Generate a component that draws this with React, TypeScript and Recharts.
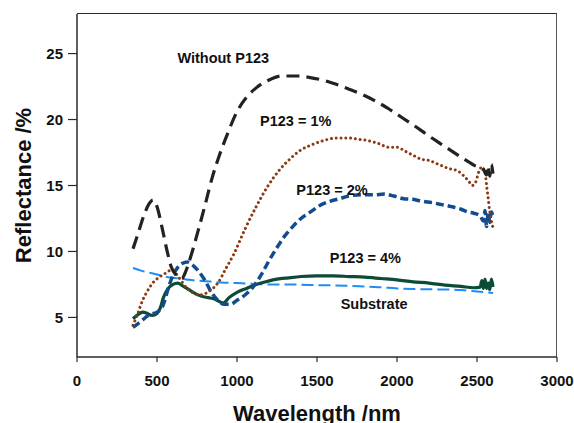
import React from "react";
import { LineChart, Line, XAxis, YAxis, ReferenceDot } from "recharts";

// Wavelength (nm) / reflectance (%) pairs
const withoutP123: [number, number][] = [
  [350, 10.2], [380, 11.3], [420, 12.8], [450, 13.6], [475, 13.9], [500, 13.4],
  [530, 11.9], [560, 10.2], [590, 8.8], [620, 8.2], [655, 7.95], [680, 8.5],
  [700, 9.2], [760, 11.7], [800, 13.5], [845, 15.6], [890, 17.3], [940, 18.9],
  [1000, 20.6], [1060, 21.7], [1120, 22.4], [1200, 23.0], [1280, 23.3], [1380, 23.3],
  [1450, 23.2], [1530, 23.0], [1600, 22.75], [1700, 22.3], [1800, 21.8], [1880, 21.3],
  [1950, 20.8], [2000, 20.4], [2100, 19.6], [2200, 18.75], [2300, 17.95], [2400, 17.15],
  [2480, 16.55], [2540, 16.2], [2560, 15.8], [2570, 16.5], [2580, 15.7], [2590, 16.6],
  [2600, 15.9],
];

const p123OnePct: [number, number][] = [
  [350, 4.4], [380, 5.3], [410, 6.3], [440, 7.0], [480, 7.7], [520, 8.1], [560, 8.4],
  [590, 8.6], [620, 8.3], [650, 7.8], [680, 7.3], [720, 6.9], [760, 6.7], [800, 6.8],
  [840, 7.1], [880, 7.6], [930, 8.7], [980, 9.8], [1050, 11.7], [1120, 13.4],
  [1190, 14.9], [1260, 16.1], [1330, 17.0], [1400, 17.7], [1470, 18.1], [1540, 18.4],
  [1620, 18.6], [1700, 18.6], [1760, 18.5], [1820, 18.4], [1880, 18.2], [1950, 17.9],
  [2000, 17.9], [2050, 17.6], [2100, 17.3], [2150, 17.0], [2200, 16.9], [2260, 16.6],
  [2320, 16.3], [2380, 16.1], [2420, 15.7], [2450, 15.3], [2470, 15.0], [2490, 15.2],
  [2510, 16.0], [2530, 16.4], [2550, 16.0], [2560, 15.0], [2570, 14.0], [2580, 13.0],
  [2590, 12.3], [2600, 11.8],
];

const p123TwoPct: [number, number][] = [
  [350, 4.25], [400, 4.7], [450, 5.2], [500, 5.4], [540, 6.0], [570, 7.2], [600, 8.2],
  [630, 8.8], [660, 9.1], [690, 9.2], [720, 9.0], [760, 8.5], [800, 7.8], [840, 6.9],
  [880, 6.3], [920, 6.0], [960, 6.0], [1000, 6.3], [1050, 6.7], [1100, 7.3],
  [1150, 8.2], [1200, 9.3], [1250, 10.3], [1300, 11.2], [1350, 11.9], [1400, 12.5],
  [1460, 13.0], [1520, 13.5], [1580, 13.8], [1640, 14.0], [1700, 14.2], [1780, 14.3],
  [1860, 14.3], [1920, 14.35], [1980, 14.2], [2040, 14.0], [2100, 13.95], [2160, 13.8],
  [2220, 13.7], [2280, 13.55], [2340, 13.4], [2400, 13.2], [2440, 13.0], [2480, 12.9],
  [2520, 12.7], [2540, 12.3], [2550, 13.1], [2560, 11.9], [2570, 12.9], [2580, 12.2],
  [2590, 13.0], [2600, 12.6],
];

const p123FourPct: [number, number][] = [
  [350, 4.9], [380, 5.2], [410, 5.4], [440, 5.3], [470, 5.15], [500, 5.3], [520, 5.7],
  [540, 6.5], [570, 7.2], [600, 7.5], [630, 7.6], [660, 7.4], [700, 7.1], [740, 6.8],
  [780, 6.6], [820, 6.5], [860, 6.4], [890, 6.2], [915, 6.1], [950, 6.5], [1000, 6.9],
  [1060, 7.2], [1120, 7.5], [1180, 7.7], [1250, 7.9], [1320, 8.0], [1400, 8.1],
  [1500, 8.15], [1600, 8.15], [1700, 8.1], [1800, 8.05], [1900, 7.95], [2000, 7.85],
  [2100, 7.7], [2200, 7.6], [2300, 7.45], [2400, 7.35], [2480, 7.25], [2520, 7.3],
  [2530, 7.8], [2540, 7.2], [2550, 7.9], [2560, 7.2], [2570, 7.6], [2580, 7.1],
  [2590, 7.9], [2600, 7.3],
];

const substrate: [number, number][] = [
  [350, 8.75], [400, 8.55], [450, 8.4], [500, 8.25], [550, 8.1], [600, 8.0], [650, 7.95],
  [700, 7.85], [800, 7.75], [900, 7.65], [1000, 7.6], [1100, 7.55], [1200, 7.5],
  [1300, 7.5], [1400, 7.48], [1500, 7.45], [1600, 7.43], [1700, 7.4], [1800, 7.35],
  [1900, 7.28], [2000, 7.2], [2100, 7.15], [2200, 7.13], [2300, 7.12], [2400, 7.08],
  [2500, 6.97], [2600, 6.85],
];

const wavelengthTicks = [0, 500, 1000, 1500, 2000, 2500, 3000];
const reflectanceTicks = [5, 10, 15, 20, 25];
const X_MIN = 0;
const X_MAX = 3000;
const Y_MIN = 2;
const Y_MAX = 28;

// annotation text and its anchor in data coordinates
const annotations: { text: string; x: number; y: number }[] = [
  { text: "Without P123", x: 914, y: 24.65 },
  { text: "P123 = 1%", x: 1367, y: 19.9 },
  { text: "P123 = 2%", x: 1594, y: 14.7 },
  { text: "P123 = 4%", x: 1802, y: 9.5 },
  { text: "Substrate", x: 1857, y: 6.0 },
];

const toRows = (pairs: [number, number][]) => pairs.map(([x, y]) => ({ x, y }));

const FONT = '"Liberation Sans", Arial, sans-serif';
const AXIS_COLOR = "#2a2a2a";
const tickStyle = { fontSize: 15, fontWeight: 700, fill: "#111", fontFamily: FONT };

// layout of the chart box
const CHART_W = 574;
const CHART_H = 423;
const MARGIN = { top: 14, right: 17, bottom: 0, left: 8 };
const Y_AXIS_W = 69;
const X_AXIS_H = 66;

const YTitle = (props: any) => {
  const vb = props.viewBox || {};
  const cx = (vb.x ?? 0) + 15;
  const cy = (vb.y ?? 0) + (vb.height ?? 0) / 2;
  return (
    <text
      x={cx}
      y={cy}
      transform={`rotate(-90, ${cx}, ${cy})`}
      textAnchor="middle"
      dominantBaseline="central"
      style={{ fontSize: 22, fontWeight: 700, fill: "#111", fontFamily: FONT }}
    >
      Reflectance /%
    </text>
  );
};

const XTitle = (props: any) => {
  const vb = props.viewBox || {};
  const cx = (vb.x ?? 0) + (vb.width ?? 0) / 2;
  const by = (vb.y ?? 0) + 64;
  return (
    <text
      x={cx}
      y={by}
      textAnchor="middle"
      style={{ fontSize: 22, fontWeight: 700, fill: "#111", fontFamily: FONT }}
    >
      Wavelength /nm
    </text>
  );
};

export default function App() {
  const plotLeft = MARGIN.left + Y_AXIS_W;
  const plotTop = MARGIN.top;
  const plotW = CHART_W - MARGIN.left - MARGIN.right - Y_AXIS_W;
  const plotH = CHART_H - MARGIN.top - MARGIN.bottom - X_AXIS_H;
  return (
    <div
      style={{
        position: "fixed",
        left: 0,
        top: 0,
        width: CHART_W,
        height: CHART_H,
        overflow: "hidden",
        fontFamily: FONT,
        background: "#fff",
      }}
    >
      {/* top and right edges of the plot box */}
      <div
        style={{
          position: "absolute",
          left: plotLeft,
          top: plotTop - 0.75,
          width: plotW - 0.75,
          height: plotH,
          borderTop: `1.5px solid ${AXIS_COLOR}`,
          borderRight: "1.5px solid #555",
          pointerEvents: "none",
        }}
      />
      <LineChart width={CHART_W} height={CHART_H} margin={MARGIN}>
        <XAxis
          type="number"
          dataKey="x"
          domain={[X_MIN, X_MAX]}
          ticks={wavelengthTicks}
          interval={0}
          height={X_AXIS_H}
          tickSize={5}
          tickMargin={13}
          tick={tickStyle}
          axisLine={{ stroke: AXIS_COLOR, strokeWidth: 1.5 }}
          tickLine={{ stroke: AXIS_COLOR, strokeWidth: 1.2 }}
          label={<XTitle />}
        />
        <YAxis
          type="number"
          domain={[Y_MIN, Y_MAX]}
          ticks={reflectanceTicks}
          interval={0}
          width={Y_AXIS_W}
          tickSize={9}
          tickMargin={5}
          tick={tickStyle}
          axisLine={{ stroke: AXIS_COLOR, strokeWidth: 1.5 }}
          tickLine={{ stroke: AXIS_COLOR, strokeWidth: 1.2 }}
          label={<YTitle />}
        />

        <Line
          data={toRows(substrate)}
          dataKey="y"
          type="monotone"
          stroke="#1E8CF5"
          strokeWidth={2}
          strokeDasharray="12 5"
          dot={false}
          isAnimationActive={false}
        />
        <Line
          data={toRows(p123FourPct)}
          dataKey="y"
          type="monotone"
          stroke="#0B4B37"
          strokeWidth={3.2}
          dot={false}
          isAnimationActive={false}
        />
        <Line
          data={toRows(p123TwoPct)}
          dataKey="y"
          type="monotone"
          stroke="#134C8E"
          strokeWidth={3.5}
          strokeDasharray="8 4"
          dot={false}
          isAnimationActive={false}
        />
        <Line
          data={toRows(p123OnePct)}
          dataKey="y"
          type="monotone"
          stroke="#8B3A14"
          strokeWidth={3}
          strokeDasharray="0.01 4.8"
          strokeLinecap="round"
          dot={false}
          isAnimationActive={false}
        />
        <Line
          data={toRows(withoutP123)}
          dataKey="y"
          type="monotone"
          stroke="#222"
          strokeWidth={3.2}
          strokeDasharray="13 7"
          dot={false}
          isAnimationActive={false}
        />

        {annotations.map((a) => (
          <ReferenceDot
            key={a.text}
            x={a.x}
            y={a.y}
            r={0}
            fill="none"
            stroke="none"
            label={{
              value: a.text,
              position: "center",
              style: { fontSize: 14.5, fontWeight: 700, fill: "#111", fontFamily: FONT },
            }}
          />
        ))}
      </LineChart>
    </div>
  );
}
